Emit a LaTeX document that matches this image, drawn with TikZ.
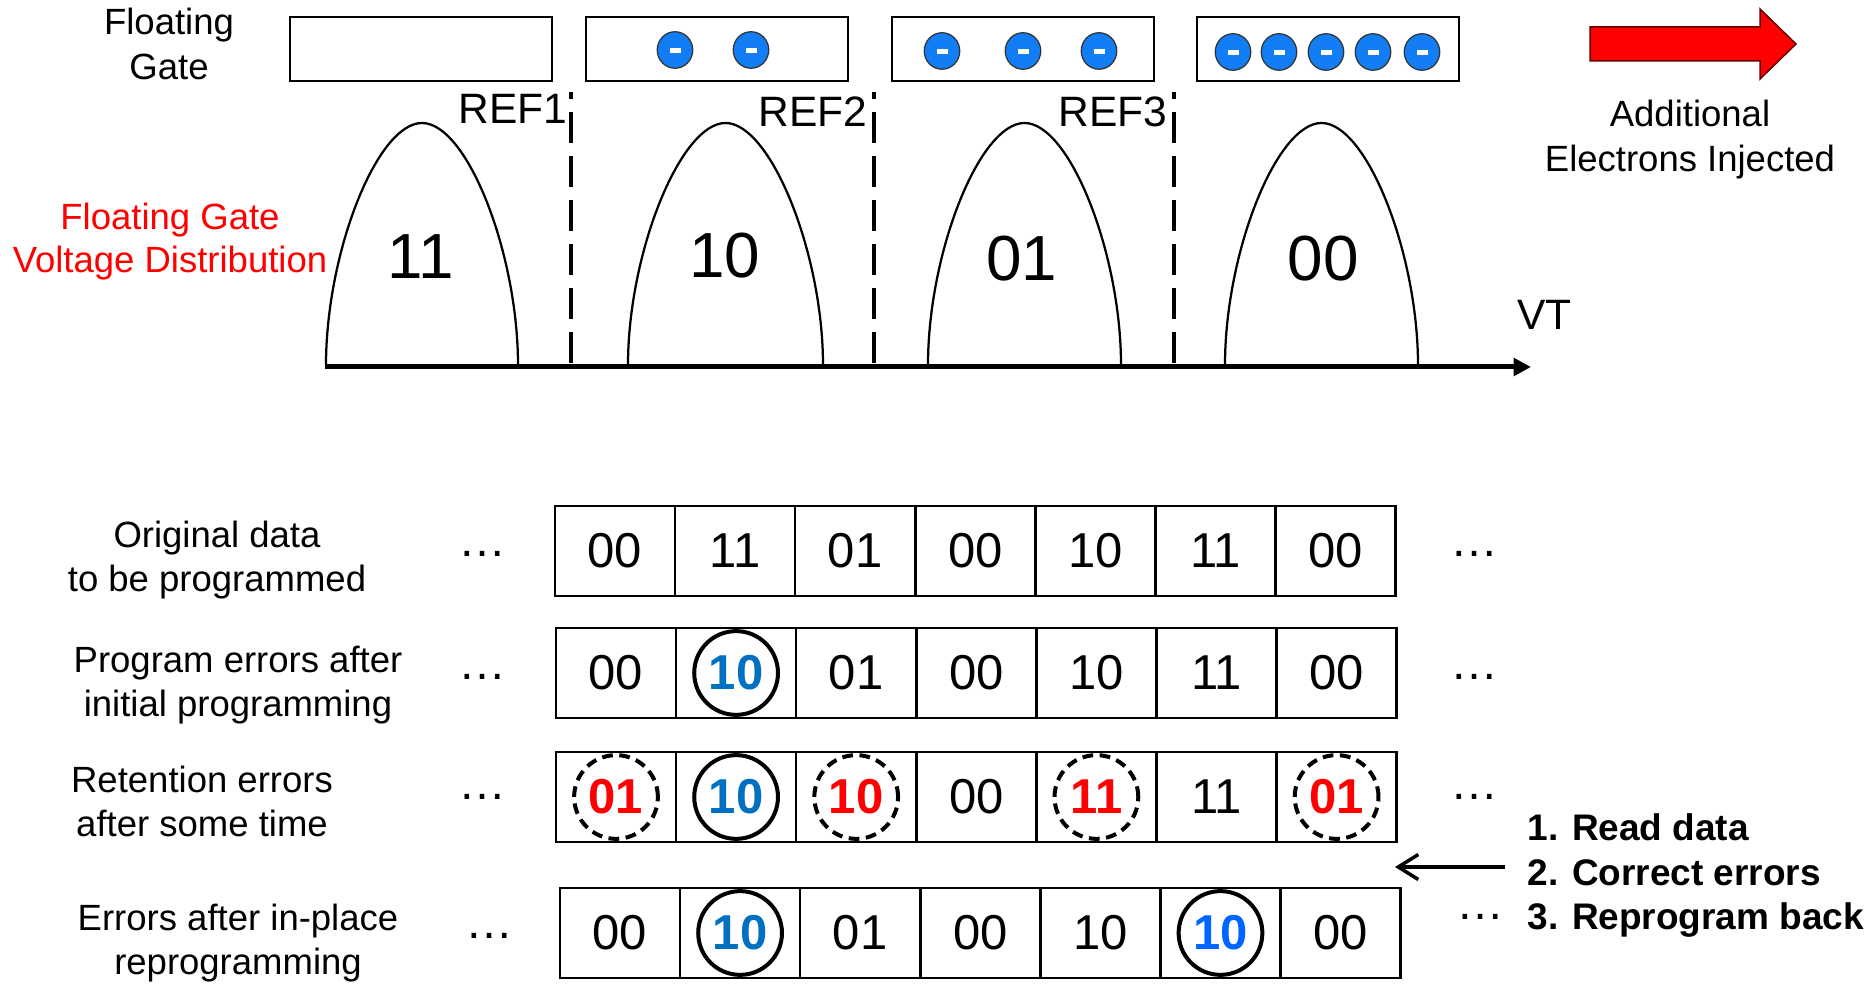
\documentclass[tikz,border=0pt]{standalone}
\usepackage{fontspec}
\setmainfont{Liberation Sans}
\usetikzlibrary{arrows.meta,shapes.geometric}
\definecolor{fgred}{RGB}{255,0,0}
\definecolor{errblue}{RGB}{0,112,192}
\definecolor{errbluetwo}{RGB}{0,102,255}
\definecolor{eblue}{RGB}{18,125,245}
\begin{document}
\begin{tikzpicture}[x=0.4pt,y=-0.4pt,
  lbl/.style={font=\fontsize{14.6}{17.6}\selectfont, align=center, anchor=base, inner sep=0},
  reflbl/.style={font=\fontsize{17}{20}\selectfont, anchor=base east, inner sep=0},
  bignum/.style={font=\fontsize{25.5}{28}\selectfont, anchor=base, inner sep=0},
  dots/.style={font=\fontsize{19.2}{20}\selectfont, anchor=base, inner sep=0},
  gatebox/.style={draw, line width=0.8pt, minimum width=104.8pt, minimum height=25.6pt, inner sep=0},
  electron/.style={ellipse, draw=black!80, line width=0.5pt, fill=eblue, minimum width=14.2pt, minimum height=14.6pt, inner sep=0,
    path picture={\fill[white] ([xshift=-2.2pt,yshift=-1.4pt]path picture bounding box.center) rectangle ([xshift=2.2pt,yshift=0.6pt]path picture bounding box.center);}},
  bell/.style={line width=0.9pt},
  refline/.style={line width=1.3pt, dash pattern=on 12.4pt off 5.2pt},
  axisline/.style={line width=2pt, -{Triangle[length=7pt,width=7pt]}},
  cell/.style={draw, line width=1pt, minimum width=48.04pt, minimum height=36pt, inner sep=0},
  valn/.style={font=\fontsize{19.6}{20}\selectfont, inner sep=0},
  vals/.style={circle, draw, line width=1.6pt, minimum size=33.5pt, inner sep=0, font=\bfseries\fontsize{19.6}{20}\selectfont, text=errblue},
  valt/.style={vals, text=errbluetwo},
  vald/.style={circle, draw, line width=1.6pt, dash pattern=on 4.3pt off 2.6pt, minimum size=33.5pt, inner sep=0, font=\bfseries\fontsize{19.6}{20}\selectfont, text=fgred},
  steps/.style={font=\bfseries\fontsize{14.8}{17.8}\selectfont, align=left, anchor=base west, inner sep=0},
  fixarrow/.style={line width=1.4pt, -{Straight Barb[length=8pt,width=10pt]}}
]
\useasboundingbox (0,0) rectangle (1875,984);

% ---------- top: floating gates ----------
\node[lbl, font=\fontsize{14.6}{18}\selectfont] (fglbl) at (169,80) {Floating\\Gate};
\node[gatebox] (fg1) at (421,49) {};
\node[gatebox] (fg2) at (717,49) {};
\node[gatebox] (fg3) at (1023,49) {};
\node[gatebox] (fg4) at (1327.5,49) {};
\node[electron] (e21) at (675,50) {};
\node[electron] (e22) at (751,50) {};
\node[electron] (e31) at (942,51) {};
\node[electron] (e32) at (1023,51) {};
\node[electron] (e33) at (1099,51) {};
\node[electron] (e41) at (1233,52) {};
\node[electron] (e42) at (1279,52) {};
\node[electron] (e43) at (1326,52) {};
\node[electron] (e44) at (1373,52) {};
\node[electron] (e45) at (1422,52) {};

% red arrow
\filldraw[fill=fgred, draw=red!40!black, line width=0.6pt]
  (1590,27) -- (1760,27) -- (1760,9) -- (1796,44) -- (1760,79) -- (1760,61) -- (1590,61) -- cycle;
\node[lbl, font=\fontsize{14.6}{18}\selectfont] (addlbl) at (1690,172) {Additional\\Electrons Injected};

% ---------- distributions ----------
\node[lbl, text=fgred, font=\fontsize{14.6}{17.2}\selectfont] (vdlbl) at (170,273) {Floating Gate\\Voltage Distribution};

\draw[bell] (326,365) .. controls (326,253) and (377,123) .. (422,123) .. controls (467,123) and (518,253) .. (518,365);
\draw[bell] (628,365) .. controls (628,253) and (680.5,123) .. (725.5,123) .. controls (770.5,123) and (823,253) .. (823,365);
\draw[bell] (928,365) .. controls (928,253) and (979.5,123) .. (1024.5,123) .. controls (1069.5,123) and (1121,253) .. (1121,365);
\draw[bell] (1225,365) .. controls (1225,253) and (1276.5,123) .. (1321.5,123) .. controls (1366.5,123) and (1418,253) .. (1418,365);

\node[bignum] (s11) at (421,279) {11};
\node[bignum] (s10) at (725,278) {10};
\node[bignum] (s01) at (1022,281) {01};
\node[bignum] (s00) at (1323,281) {00};

\coordinate (ref1b) at (571,363); \coordinate (ref1t) at (571,92);
\coordinate (ref2b) at (874,363); \coordinate (ref2t) at (874,92);
\coordinate (ref3b) at (1174,363); \coordinate (ref3t) at (1174,92);
\draw[refline] (ref1b) -- (ref1t);
\draw[refline] (ref2b) -- (ref2t);
\draw[refline] (ref3b) -- (ref3t);
\node[reflbl] (r1) at (568,124) {REF1};
\node[reflbl] (r2) at (868,127) {REF2};
\node[reflbl] (r3) at (1168,127) {REF3};

\coordinate (axL) at (325,367);
\coordinate (axR) at (1531,367);
\draw[axisline] (axL) -- (axR);
\node[font=\fontsize{17}{20}\selectfont, anchor=base west, inner sep=0] (vt) at (1517,330) {VT};

% ---------- bottom: data rows ----------
\node[lbl] (lab1) at (217,592) {Original data\\to be programmed};
\node[lbl] (lab2) at (238,717) {Program errors after\\initial programming};
\node[lbl] (lab3) at (202,837) {Retention errors\\after some time};
\node[lbl] (lab4) at (238,975) {Errors after in-place\\reprogramming};

\foreach \t/\v [count=\k] in {n/00,n/11,n/01,n/00,n/10,n/11,n/00} {
  \node[cell] (ra\k) at ({615+120.1*(\k-1)},551) {};
  \node[val\t] (va\k) at (ra\k.center) {\v};
}
\foreach \t/\v [count=\k] in {n/00,s/10,n/01,n/00,n/10,n/11,n/00} {
  \node[cell] (rb\k) at ({616+120.1*(\k-1)},673) {};
  \node[val\t] (vb\k) at (rb\k.center) {\v};
}
\foreach \t/\v [count=\k] in {d/01,s/10,d/10,n/00,d/11,n/11,d/01} {
  \node[cell] (rc\k) at ({616+120.1*(\k-1)},797) {};
  \node[val\t] (vc\k) at (rc\k.center) {\v};
}
\foreach \t/\v [count=\k] in {n/00,s/10,n/01,n/00,n/10,t/10,n/00} {
  \node[cell] (rd\k) at ({620+120.1*(\k-1)},933) {};
  \node[val\t] (vd\k) at (rd\k.center) {\v};
}

\node[dots] (dla) at (482,557) {…};
\node[dots] (dlb) at (482,680) {…};
\node[dots] (dlc) at (482,800) {…};
\node[dots] (dld) at (489,939) {…};
\node[dots] (dra) at (1474,557) {…};
\node[dots] (drb) at (1474,680) {…};
\node[dots] (drc) at (1474,800) {…};
\node[dots] (drd) at (1480,920) {…};

\node[steps] (fixsteps) at (1527,930) {1. Read data\\2. Correct errors\\3. Reprogram back};
\coordinate (fixstart) at (1505,867);
\coordinate (fixend) at (1395,867);
\draw[fixarrow] (fixstart) -- (fixend);
\end{tikzpicture}
\end{document}
